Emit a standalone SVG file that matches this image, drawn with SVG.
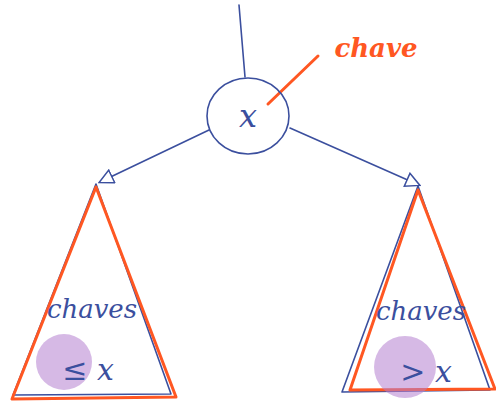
<svg xmlns="http://www.w3.org/2000/svg" width="496" height="401" viewBox="0 0 496 401">
<style>
.blue{fill:none;stroke:#3b4f9e;stroke-width:1.6;stroke-linecap:round;stroke-linejoin:round}
.orange{fill:none;stroke:#ff5722;stroke-width:3;stroke-linecap:round;stroke-linejoin:round}
.bt{fill:#3b4f9e;font-family:"DejaVu Serif",serif;font-style:italic}
.ot{fill:#ff5722;font-family:"DejaVu Serif",serif;font-style:italic;font-weight:bold}
.hl{fill:#b57fd0;opacity:0.55}
</style>
<defs>
<marker id="arr" viewBox="0 0 16 16" refX="14" refY="8" markerWidth="16" markerHeight="16" markerUnits="userSpaceOnUse" orient="auto">
<path d="M1,1 L15,8 L1,15 Z" fill="#fff" stroke="#3b4f9e" stroke-width="1.5"/>
</marker>
</defs>
<g id="connectors">
<path class="blue" d="M239,5 L245,77"/>
<path class="blue" d="M209,130 L100,182" marker-end="url(#arr)"/>
<path class="blue" d="M290,128 L419,185" marker-end="url(#arr)"/>
<path class="orange" d="M268,104 L318,56"/>
</g>
<g id="root">
<ellipse class="blue" cx="248" cy="116" rx="41" ry="38"/>
<text class="bt" x="248" y="127" font-size="32" text-anchor="middle">x</text>
</g>
<g id="label-chave">
<text class="ot" x="376" y="57" font-size="26" text-anchor="middle">chave</text>
</g>
<g id="left-subtree">
<path class="blue" d="M96,184 L13,395 L171,394 Z"/>
<path class="orange" d="M96,187 L12,399 L176,397 Z"/>
<circle class="hl" cx="64" cy="362" r="28"/>
<text class="bt" x="92" y="318" font-size="26" text-anchor="middle">chaves</text>
<text class="bt" x="88" y="380" font-size="30" text-anchor="middle">≤ x</text>
</g>
<g id="right-subtree">
<path class="blue" d="M418,186 L342,392 L490,390 Z"/>
<path class="orange" d="M418,190 L350,390 L495,389 Z"/>
<circle class="hl" cx="405" cy="367" r="31"/>
<text class="bt" x="421" y="320" font-size="26" text-anchor="middle">chaves</text>
<text class="bt" x="426" y="382" font-size="30" text-anchor="middle">&gt; x</text>
</g>
</svg>
